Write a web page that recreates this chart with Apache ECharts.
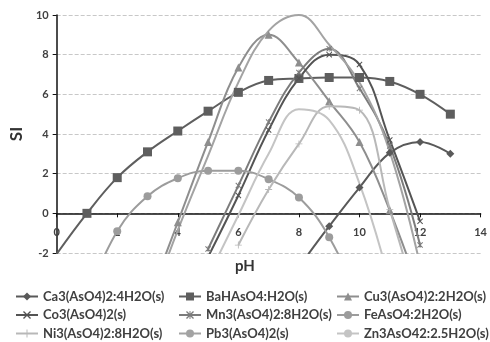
<!DOCTYPE html>
<html>
<head>
<meta charset="utf-8">
<script src="https://cdn.jsdelivr.net/npm/echarts@6/dist/echarts.min.js"></script>
<style>html,body{margin:0;padding:0;background:#fff}#c{width:490px;height:342px}</style>
</head>
<body>
<div id="c"></div>
<script>
// pH categories (x values)
var pH = [0,1,2,3,4,5,6,7,8,9,10,11,12,13];
var xTicks = [0,2,4,6,8,10,12,14];
var yTicks = [-2,0,2,4,6,8,10];
// Saturation indices (null = not plotted)
var ca = [null,null,null,null,null,null,null,null,-2.7,-0.65,1.3,3.05,3.6,3.0];
var ba = [-2.05,0.0,1.8,3.1,4.15,5.15,6.1,6.7,6.8,6.85,6.85,6.65,6.0,5.0];
var cu = [null,null,null,-4.5,-0.45,3.6,7.35,9.0,7.6,5.65,3.6,0.15,-4.0,null];
var co = [null,null,null,null,null,-2.2,0.9,4.2,6.8,8.0,7.5,3.7,-0.4,null];
var mn = [null,null,null,null,null,-1.8,1.4,4.6,7.1,8.3,6.3,3.4,-1.6,null];
var fe = [null,-4.2,-0.9,0.86,1.77,2.15,2.15,1.72,0.8,-1.2,-4.5,null,null,null];
var ni = [null,null,null,null,null,null,-1.6,1.2,3.5,5.4,5.2,0.2,-5.0,null];
var pb = [null,null,null,-5.0,-0.85,2.9,6.6,9.2,10.0,8.5,6.6,3.1,-2.6,null];
var zn = [null,null,null,null,null,-3.2,-0.1,3.0,5.25,4.7,1.5,-3.5,null,null];

var names = ['Ca3(AsO4)2:4H2O(s)','BaHAsO4:H2O(s)','Cu3(AsO4)2:2H2O(s)','Co3(AsO4)2(s)','Mn3(AsO4)2:8H2O(s)','FeAsO4:2H2O(s)','Ni3(AsO4)2:8H2O(s)','Pb3(AsO4)2(s)','Zn3AsO42:2.5H2O(s)'];

function pairs(arr){var o=[];for(var i=0;i<pH.length;i++){if(arr[i]!==null)o.push([pH[i],arr[i]]);}return o;}

var xSym = 'path://M0,1.2L1.2,0L5,3.8L8.8,0L10,1.2L6.2,5L10,8.8L8.8,10L5,6.2L1.2,10L0,8.8L3.8,5Z';
var starSym = 'path://M0,1.2L1.2,0L5,3.8L8.8,0L10,1.2L6.2,5L10,8.8L8.8,10L5,6.2L1.2,10L0,8.8L3.8,5Z M4.4,0H5.6V10H4.4Z';
var plusSym = 'path://M4.4,0H5.6V4.4H10V5.6H5.6V10H4.4V5.6H0V4.4H4.4Z';

function S(name, arr, color, symbol, size){
  return {name:name,type:'line',data:pairs(arr),smooth:0.4,clip:true,
    symbol:symbol,symbolSize:size,showSymbol:symbol!=='none',
    lineStyle:{color:color,width:2},itemStyle:{color:color},z:2};
}

var series = [
  S(names[0], ca, '#595959', 'diamond', 8),
  S(names[1], ba, '#5e5e5e', 'rect', 9),
  S(names[2], cu, '#8e8e8e', 'triangle', 8),
  S(names[3], co, '#545454', xSym, 6),
  S(names[4], mn, '#7c7c7c', starSym, 6),
  S(names[5], fe, '#9c9c9c', 'circle', 8),
  S(names[6], ni, '#b8b8b8', plusSym, 7),
  S(names[7], pb, '#a3a3a3', 'none', 0),
  S(names[8], zn, '#c4c4c4', 'none', 0)
];

var lgText = {fontFamily:'Lato',fontWeight:'bold',fontSize:13,color:'#404040'};
function L(left, data){
  return {left:left,top:290,orient:'vertical',itemGap:5.5,itemWidth:22,itemHeight:10,
    data:data,textStyle:lgText,selectedMode:false,padding:0};
}

var chart = echarts.init(document.getElementById('c'),null,{renderer:'canvas'});
chart.setOption({
  animation:false,
  backgroundColor:'#fff',
  grid:{left:52,right:4,top:15,bottom:89},
  title:{text:'pH',left:'center',top:259,padding:0,
    textStyle:{fontFamily:'Lato',fontWeight:'bold',fontSize:15,color:'#333'}},
  xAxis:{type:'value',min:0,max:14,interval:2,offset:-39.67,
    axisLine:{onZero:false,lineStyle:{color:'#111',width:1.5}},
    axisTick:{show:true,length:4,lineStyle:{color:'#111'}},
    axisLabel:{fontFamily:'Lato',fontWeight:'bold',fontSize:11,color:'#404040',margin:14,
      formatter:function(v){return xTicks.indexOf(v)>=0?String(v):'';}},
    splitLine:{show:false}},
  yAxis:{type:'value',min:-2,max:10,interval:2,
    name:'SI',nameLocation:'middle',nameGap:25,
    nameTextStyle:{fontFamily:'Lato',fontWeight:'bold',fontSize:17,color:'#333'},
    axisLine:{show:true,onZero:false,lineStyle:{color:'#111',width:1.5}},
    axisTick:{show:true,length:4,lineStyle:{color:'#111'}},
    axisLabel:{fontFamily:'Lato',fontWeight:'bold',fontSize:11,color:'#404040',margin:8,
      formatter:function(v){return yTicks.indexOf(v)>=0?String(v):'';}},
    splitLine:{show:true,lineStyle:{color:'#c8c8c8',type:'dashed',width:1}}},
  legend:[
    L(15,[names[0],names[3],names[6]]),
    L(178,[names[1],names[4],names[7]]),
    L(336,[names[2],names[5],names[8]])
  ],
  series:series
});
</script>
</body>
</html>
